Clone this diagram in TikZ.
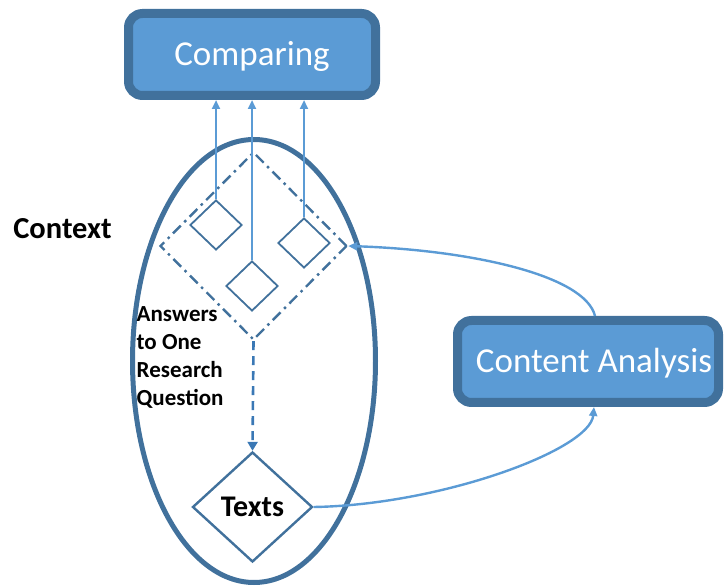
\documentclass[tikz,border=0pt]{standalone}
\usepackage{fontspec}
\setmainfont{Carlito}
\usetikzlibrary{shapes.geometric,arrows.meta,calc}
\definecolor{boxfill}{HTML}{5B9BD5}
\definecolor{boxline}{HTML}{41719C}
\definecolor{linkblue}{HTML}{5B9BD5}
\definecolor{flowblue}{HTML}{3A78B5}
\begin{document}
\begin{tikzpicture}[x=1pt,y=-1pt,
  procbox/.style={draw=boxline, line width=9pt, fill=boxfill, rounded corners=14pt,
    text=white, inner sep=0pt, font=\fontsize{35}{40}\selectfont,
    text height=22pt, text depth=0pt},
  smalldia/.style={diamond, draw=boxline, line width=1.8pt, inner sep=0pt,
    minimum width=52pt, minimum height=50pt},
  link/.style={draw=linkblue, line width=2.4pt, -{Triangle[length=9pt,width=8pt]}},
  flow/.style={draw=flowblue, line width=2.6pt, dash pattern=on 9pt off 6pt,
    -{Triangle[length=9pt,width=10pt]}},
  label/.style={inner sep=0pt, font=\bfseries\fontsize{23}{28}\selectfont}]
\useasboundingbox (0,0) rectangle (724,588);

% context ellipse and its caption
\node[ellipse, draw=boxline, line width=5pt, inner sep=0pt,
  minimum width=243pt, minimum height=443pt] (ctx) at (254,361) {};
\node[inner sep=0pt, anchor=base, font=\bfseries\fontsize{30.5}{34}\selectfont]
  (ctxlabel) at (62.5,238.3) {Context};

% answers to one research question
\node[diamond, draw=boxline, line width=2.4pt, inner sep=0pt,
  dash pattern=on 11pt off 5pt on 2.5pt off 5pt,
  minimum width=187pt, minimum height=188pt] (big) at (253.5,246) {};
\node[smalldia] (s1) at (216,225) {};
\node[smalldia] (s2) at (252,286) {};
\node[smalldia] (s3) at (304,243) {};
\node[label, anchor=north west, align=left] (answers) at (136.5,306)
  {Answers\\to One\\Research\\Question};

% texts
\node[diamond, draw=boxline, line width=2.4pt, inner sep=0pt,
  minimum width=120pt, minimum height=110pt,
  font=\bfseries\fontsize{30}{34}\selectfont, text height=19pt, text depth=0pt]
  (texts) at (252.5,507) {Texts};

% process boxes
\node[procbox, minimum width=247pt, minimum height=82pt] (cmp) at (252,54.5) {Comparing};
\node[procbox, minimum width=261pt, minimum height=82pt] (ca) at (588,361.5)
  {\hspace*{12pt}Content Analysis};

% connectors
\draw[link] (s1.north) -- (s1.north |- cmp.south);
\draw[link] (s2.north) -- (s2.north |- cmp.south);
\draw[link] (s3.north) -- (s3.north |- cmp.south);
\draw[flow] (big.south) -- (texts.north);
\draw[link] ([xshift=7pt]ca.north) .. controls (585,275) and (470,250) .. (big.east);
\draw[link] (texts.east) .. controls (440,505) and (590,450) .. ([xshift=6pt]ca.south);
\end{tikzpicture}
\end{document}
